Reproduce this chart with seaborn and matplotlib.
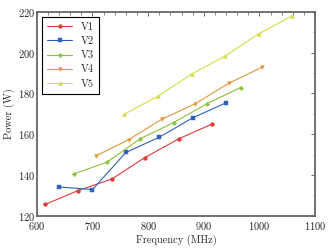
import matplotlib
matplotlib.use("Agg")
import matplotlib.pyplot as plt
import pandas as pd
import seaborn as sns
from matplotlib.ticker import MultipleLocator

# values
v1_freq = [615, 674, 735, 794, 855, 915]
v1_power = [125.5, 132.3, 138.0, 148.5, 157.7, 165.0]
v2_freq = [640, 700, 760, 820, 880, 940]
v2_power = [134.1, 132.8, 151.0, 158.5, 168.0, 175.4]
v3_freq = [666, 726, 786, 846, 906, 966]
v3_power = [140.5, 146.2, 157.8, 165.7, 175.0, 182.9]
v4_freq = [706, 765, 825, 885, 945, 1005]
v4_power = [149.3, 157.3, 167.4, 175.0, 185.0, 192.9]
v5_freq = [757, 817, 879, 939, 999, 1059]
v5_power = [169.8, 178.5, 189.6, 198.5, 209.3, 218.1]

series_names = ["V1", "V2", "V3", "V4", "V5"]
series_freq = [v1_freq, v2_freq, v3_freq, v4_freq, v5_freq]
series_power = [v1_power, v2_power, v3_power, v4_power, v5_power]
colors = ["#dd3c3c", "#2e62b8", "#8cc03a", "#e0963a", "#d4dc48"]
markers = ["o", "s", "P", "v", "^"]

frames = []
for name, fr, pw in zip(series_names, series_freq, series_power):
    frames.append(pd.DataFrame({"Frequency": fr, "Power": pw, "series": name}))
df = pd.concat(frames, ignore_index=True)

sns.set_style("white")
plt.rcParams['font.family'] = ['cmr10', 'DejaVu Serif']
plt.rcParams['mathtext.fontset'] = 'cm'
plt.rcParams['axes.formatter.use_mathtext'] = True
plt.rcParams['axes.unicode_minus'] = False

fig = plt.figure(figsize=(3.32, 2.49), dpi=100)
ax = fig.add_axes([0.111, 0.134, 0.838, 0.818])

for name, col, mk in zip(series_names, colors, markers):
    sub = df[df["series"] == name]
    sns.lineplot(data=sub, x="Frequency", y="Power", ax=ax, color=col,
                 marker=mk, markersize=2.8, linewidth=0.8, label=name,
                 markeredgewidth=0.3, markeredgecolor=col)

ax.set_xlim(600, 1100)
ax.set_ylim(120, 220)
ax.xaxis.set_major_locator(MultipleLocator(100))
ax.xaxis.set_minor_locator(MultipleLocator(20))
ax.yaxis.set_major_locator(MultipleLocator(20))
ax.yaxis.set_minor_locator(MultipleLocator(10))
ax.tick_params(which='both', direction='in', top=True, right=True,
               labelsize=7.5, color='#555555')
ax.tick_params(axis='y', pad=1.5)
ax.tick_params(axis='x', pad=3)
ax.tick_params(which='major', length=3, width=0.6)
ax.tick_params(which='minor', length=1.8, width=0.5)
for sp in ax.spines.values():
    sp.set_color('#666666')
    sp.set_linewidth(1.3)

ax.set_xlabel("Frequency (MHz)", fontsize=7.5, labelpad=2)
ax.set_ylabel("Power (W)", fontsize=7.5, labelpad=2)

leg = ax.legend(loc='upper left', fontsize=7.5, frameon=True, fancybox=False,
                edgecolor='black', framealpha=1, borderpad=0.5,
                handlelength=2.4, labelspacing=0.45, borderaxespad=0.5)
leg.get_frame().set_linewidth(0.8)

fig.savefig("out.png", dpi=100)
